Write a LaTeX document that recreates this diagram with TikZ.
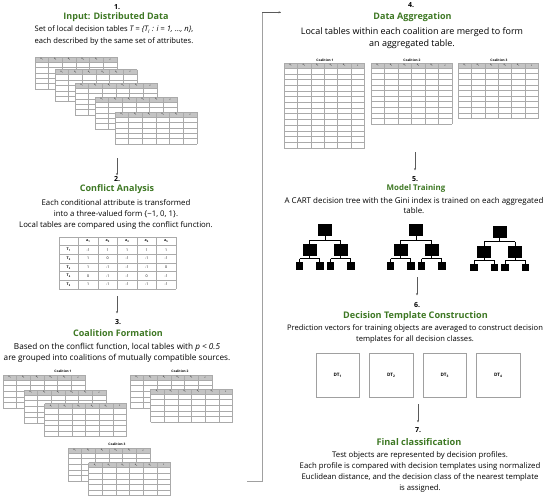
\documentclass[tikz,border=0pt]{standalone}
\usepackage{fontspec}
\setmainfont{Open Sans}
\usetikzlibrary{arrows.meta}
\definecolor{ttlgreen}{RGB}{62,120,36}
\definecolor{hdrgray}{RGB}{196,196,196}
\definecolor{gridgray}{RGB}{170,170,170}
\definecolor{linegray}{RGB}{160,160,160}
\definecolor{arrgray}{RGB}{90,90,90}
\newcommand\fs[2]{\fontsize{#1}{#2}\selectfont}
\tikzset{
  numlbl/.style={font=\bfseries\fs{7}{8}, inner sep=0pt},
  ttl/.style={font=\bfseries\fs{9}{10}, text=ttlgreen, inner sep=0pt},
  body/.style={align=center, inner sep=0pt},
  gridline/.style={draw=gridgray, line width=0.35pt},
  hlabel/.style={font=\fs{2.4}{3}, inner sep=0pt},
  clabel/.style={font=\bfseries\fs{3.2}{4}, inner sep=0pt},
  tline/.style={draw=gridgray, line width=0.4pt},
  tcell/.style={font=\fs{3.6}{4}, inner sep=0pt},
  thead/.style={font=\bfseries\fs{3.6}{4}, inner sep=0pt},
  arr/.style={draw=arrgray, line width=0.5pt, -{Stealth[length=2.4pt,width=2pt]}},
  conn/.style={draw=linegray, line width=0.9pt},
  dtbox/.style={draw=linegray, line width=0.7pt, fill=white},
  dtlbl/.style={font=\bfseries\fs{4.6}{5}, inner sep=0pt},
  treebox/.style={fill=black},
  treeline/.style={draw=black, line width=0.6pt},
}
% table: x, y(top), width, nrows, rowh
\newcommand\gtab[5]{%
  \begin{scope}[shift={(#1,#2)}]
    \pgfmathsetmacro\tw{#3}
    \pgfmathsetmacro\th{5+#4*#5}
    \pgfmathsetmacro\cw{#3/6}
    \fill[white] (0,0) rectangle (\tw,\th);
    \fill[hdrgray] (0,0) rectangle (\tw,5);
    \draw[gridline] (0,0) -- (\tw,0);
    \foreach \j in {0,...,#4} \draw[gridline] (0,{5+\j*#5}) -- (\tw,{5+\j*#5});
    \foreach \i in {0,...,6} \draw[gridline] ({\i*\cw},0) -- ({\i*\cw},\th);
    \foreach \t [count=\k] in {a\textsubscript{1},a\textsubscript{2},a\textsubscript{3},a\textsubscript{4},a\textsubscript{5},c}
      \node[hlabel] at ({(\k-0.5)*\cw},2.6) {\t};
  \end{scope}}
% tree: center x, top y
\newcommand\dtree[2]{%
  \begin{scope}[shift={(#1,#2)}]
    \fill[treebox] (-7,0) rectangle (7,12);
    \draw[treeline] (0,12) -- (0,16);
    \draw[treeline] (-15.5,16) -- (15.5,16);
    \draw[treeline] (-15.5,16) -- (-15.5,20);
    \draw[treeline] (15.5,16) -- (15.5,20);
    \foreach \s in {-15.5,15.5}{
      \fill[treebox] ({\s-7},20) rectangle ({\s+7},32);
      \draw[treeline] (\s,32) -- (\s,34.5);
      \draw[treeline] ({\s-10},34.5) -- ({\s+10},34.5);
      \draw[treeline] ({\s-10},34.5) -- ({\s-10},38);
      \draw[treeline] ({\s+10},34.5) -- ({\s+10},38);
      \fill[treebox] ({\s-14},38) rectangle ({\s-6.5},45.5);
      \fill[treebox] ({\s+6.5},38) rectangle ({\s+14},45.5);
    }
  \end{scope}}
\begin{document}
\begin{tikzpicture}[x=1pt,y=-1pt]
\useasboundingbox (0,0) rectangle (550,499);
\fill[white] (0,0) rectangle (550,499);

% ---------- Step 1
\node[numlbl] (n1) at (117,7) {1.};
\node[ttl] (t1) at (116,17.5) {Input: Distributed Data};
\node[body, font=\fs{7.6}{12}] (d1) at (114,36) {Set of local decision tables \textit{T = \{T\textsubscript{i} : i = 1, …, n\}},\\each described by the same set of attributes.};
\gtab{35}{57}{82}{5}{5.4}
\gtab{55}{69.5}{82}{5}{5.4}
\gtab{75}{83}{82}{5}{5.4}
\gtab{95}{97}{82}{5}{5.4}
\gtab{115}{112}{82}{5}{5.4}
\coordinate (a1s) at (117,158);
\coordinate (a1e) at (117,175.5);
\draw[arr] (a1s) -- (a1e);

% ---------- Step 2
\node[numlbl] (n2) at (117,179.5) {2.};
\node[ttl] (t2) at (117,189.5) {Conflict Analysis};
\node[body, font=\fs{7.8}{11}] (d2) at (116,214) {Each conditional attribute is transformed\\into a three-valued form \{−1, 0, 1\}.\\Local tables are compared using the conflict function.};
\foreach \i in {0,...,6} \draw[tline] ({59+\i*19.5},237) -- ({59+\i*19.5},289);
\foreach \j in {0,...,6} \draw[tline] (59,{237+\j*52/6}) -- (176,{237+\j*52/6});
\foreach \k in {1,...,5} {
  \node[thead] at ({59+(\k+0.5)*19.5},{237+0.5*52/6}) {a\textsubscript{\k}};
  \node[thead] at ({59+0.5*19.5},{237+(\k+0.5)*52/6}) {T\textsubscript{\k}};
}
\foreach \r/\va/\vb/\vc/\vd/\ve in {1/-1/1/1/1/1, 2/1/0/-1/-1/-1, 3/1/-1/-1/-1/0, 4/0/-1/-1/0/-1, 5/1/-1/-1/-1/-1} {
  \foreach \c/\v in {1/\va,2/\vb,3/\vc,4/\vd,5/\ve}
    \node[tcell] at ({59+(\c+0.5)*19.5},{237+(\r+0.5)*52/6}) {\v};
}
\coordinate (a2s) at (117,296);
\coordinate (a2e) at (117,313.5);
\draw[arr] (a2s) -- (a2e);

% ---------- Step 3
\node[numlbl] (n3) at (118,322) {3.};
\node[ttl] (t3) at (118,333) {Coalition Formation};
\node[body, font=\fs{8.2}{11}] (d3) at (117,352.5) {Based on the conflict function, local tables with \textit{p < 0.5}\\are grouped into coalitions of mutually compatible sources.};
\node[clabel] (cl1) at (63,371) {Coalition 1};
\gtab{3}{375}{82}{5}{5.6}
\gtab{24}{390}{82}{5}{5.6}
\gtab{44.5}{403.5}{82}{5}{5.6}
\node[clabel] (cl2) at (180,371) {Coalition 2};
\gtab{130}{375}{82}{5}{5.6}
\gtab{150.5}{389}{82}{5}{5.6}
\node[clabel] (cl3) at (117,444) {Coalition 3};
\gtab{68}{448}{82}{5}{5.6}
\gtab{88.5}{462.5}{82}{5}{5.6}

% ---------- connector 3 -> 4
\coordinate (c3a) at (247,481);
\coordinate (c3b) at (262,481);
\coordinate (c3c) at (262,12.3);
\coordinate (c4in) at (281,12.3);
\draw[conn] (c3a) -- (c3b) -- (c3c) -- (c4in);
\draw[arr] (c3c) -- (c4in);

% ---------- Step 4
\node[numlbl] (n4) at (411,5.5) {4.};
\node[ttl] (t4) at (412.5,17) {Data Aggregation};
\node[body, font=\fs{9}{12}] (d4) at (412,38) {Local tables within each coalition are merged to form\\an aggregated table.};
\node[clabel] (cl4a) at (325,60) {Coalition 1};
\gtab{284}{63}{80.5}{14}{5.7}
\node[clabel] (cl4b) at (412,60) {Coalition 2};
\gtab{371}{63}{81}{10}{5.6}
\node[clabel] (cl4c) at (499,60) {Coalition 3};
\gtab{458}{63}{80.5}{9}{5.6}
\coordinate (a4s) at (415,152);
\coordinate (a4e) at (415,170.5);
\draw[arr] (a4s) -- (a4e);

% ---------- Step 5
\node[numlbl] (n5) at (415,179.5) {5.};
\node[ttl, font=\bfseries\fs{7.9}{9}] (t5) at (416,188.5) {Model Training};
\node[body, font=\fs{7.95}{9.5}] (d5) at (414,205.5) {A CART decision tree with the Gini index is trained on each aggregated\\table.};
\dtree{325}{224}
\dtree{416}{224}
\dtree{499.5}{225.5}
\coordinate (a5s) at (417,277);
\coordinate (a5e) at (417,295.5);
\draw[arr] (a5s) -- (a5e);

% ---------- Step 6
\node[numlbl] (n6) at (417,305) {6.};
\node[ttl, font=\bfseries\fs{9.1}{10}] (t6) at (415.5,316) {Decision Template Construction};
\node[body, font=\fs{7.6}{10}] (d6) at (415,334) {Prediction vectors for training objects are averaged to construct decision\\templates for all decision classes.};
\foreach \x/\k in {316/1,369.5/2,423/3,476.5/4} {
  \draw[dtbox] (\x,353) rectangle ({\x+43.5},397);
  \node[dtlbl] (dt\k) at ({\x+21.75},375) {DT\textsubscript{\k}};
}
\coordinate (a6s) at (418,404);
\coordinate (a6e) at (418,422.5);
\draw[arr] (a6s) -- (a6e);

% ---------- Step 7
\node[numlbl] (n7) at (418,430.5) {7.};
\node[ttl, font=\bfseries\fs{9.2}{10}] (t7) at (419,442) {Final classification};
\node[body, font=\fs{7.75}{11.3}] (d7) at (420,472) {Test objects are represented by decision profiles.\\Each profile is compared with decision templates using normalized\\Euclidean distance, and the decision class of the nearest template\\is assigned.};
\end{tikzpicture}
\end{document}
